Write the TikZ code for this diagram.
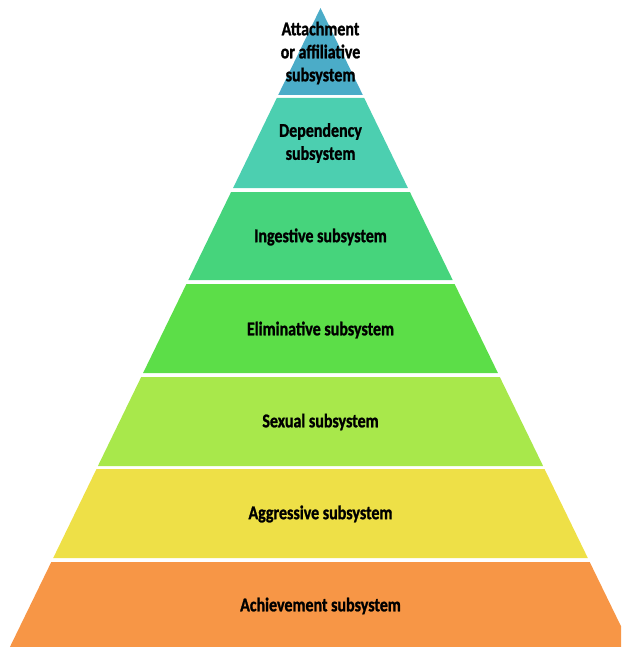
\documentclass[tikz,border=0pt]{standalone}
\usepackage{fontspec}
\usepackage{tikz}
\newfontfamily\tierfont{Carlito}[FakeStretch=0.82,BoldFeatures={FakeBold=1.2}]
\definecolor{attachcol}{HTML}{4BACC8}
\definecolor{dependcol}{HTML}{4CCFB0}
\definecolor{ingestcol}{HTML}{46D47C}
\definecolor{elimcol}{HTML}{5CDE48}
\definecolor{sexcol}{HTML}{A8E84B}
\definecolor{aggrcol}{HTML}{EEE047}
\definecolor{achievcol}{HTML}{F79646}

\begin{document}
\begin{tikzpicture}[x=1pt,y=-1pt,
    tierlabel/.style={font=\tierfont\bfseries\fontsize{19.5}{23}\selectfont,align=center,text=black,inner sep=0pt}]
  \useasboundingbox (0,0) rectangle (621,647);
  \clip (0,0) rectangle (621,647);
  \fill[attachcol] (320.5,8) -- (362.8,95) -- (278.2,95) -- cycle;
  \fill[dependcol] (276.8,98) -- (364.2,98) -- (407.9,188) -- (233.1,188) -- cycle;
  \fill[ingestcol] (231.1,192) -- (409.9,192) -- (452.7,280) -- (188.3,280) -- cycle;
  \fill[elimcol] (186.4,284) -- (454.6,284) -- (497.9,373) -- (143.1,373) -- cycle;
  \fill[sexcol] (141.2,377) -- (499.8,377) -- (543.1,466) -- (97.9,466) -- cycle;
  \fill[aggrcol] (96.5,469) -- (544.5,469) -- (587.8,558) -- (53.2,558) -- cycle;
  \fill[achievcol] (51.3,562) -- (589.7,562) -- (631.1,647) -- (9.9,647) -- cycle;
  % labels
  \node[tierlabel] (attach) at (320.5,53) {Attachment\\or affiliative\\subsystem};
  \node[tierlabel] (depend) at (320.5,143) {Dependency\\subsystem};
  \node[tierlabel] (ingest) at (320.5,237) {Ingestive subsystem};
  \node[tierlabel] (elim) at (320.5,330) {Eliminative subsystem};
  \node[tierlabel] (sex) at (320.5,422) {Sexual subsystem};
  \node[tierlabel] (aggr) at (320.5,514) {Aggressive subsystem};
  \node[tierlabel] (achiev) at (320.5,606) {Achievement subsystem};
\end{tikzpicture}
\end{document}
